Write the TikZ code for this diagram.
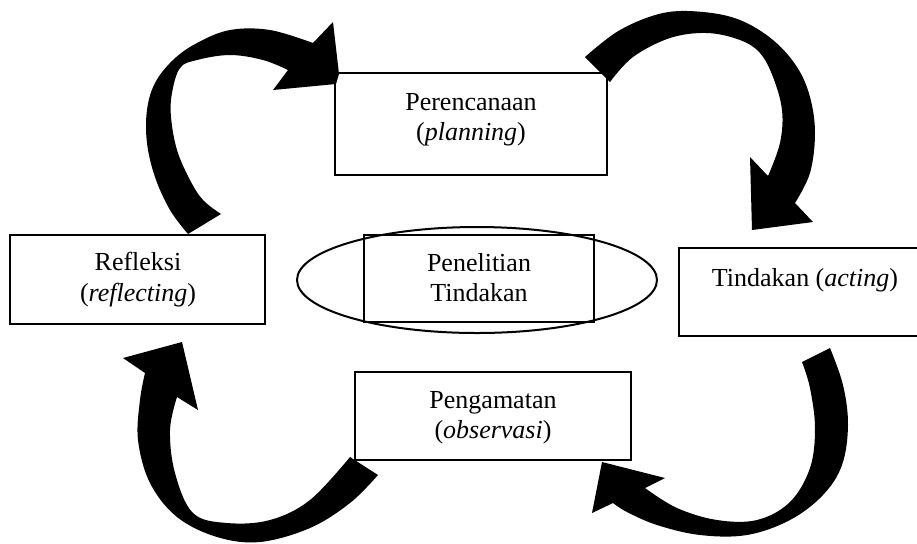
\documentclass[tikz,border=0pt]{standalone}
\usepackage{fontspec}
\setmainfont{Liberation Serif}
\usetikzlibrary{shapes.geometric}
\begin{document}
\begin{tikzpicture}[x=0.5pt,y=-0.5pt,
  box/.style={draw, line width=1pt, rectangle, inner sep=0pt},
  txt/.style={font=\fontsize{13}{15}\selectfont, anchor=base, inner sep=0pt},
  blk/.style={fill=black}]
\useasboundingbox (0,0) rectangle (917,543);
\clip (0,0) rectangle (917,543);

% boxes
\node[box, minimum width=136pt, minimum height=51pt] (plan) at (471,124) {};
\node[box, minimum width=127.5pt, minimum height=44.5pt] (refl) at (137.5,279.5) {};
\node[draw, ellipse, line width=1pt, minimum width=180pt, minimum height=53pt, inner sep=0pt] (ell) at (477,280) {};
\node[box, minimum width=115pt, minimum height=43.5pt] (pt) at (479,278.5) {};
\node[box, line width=1.4pt, minimum width=135pt, minimum height=44pt] (act) at (814,292) {};
\node[box, minimum width=138pt, minimum height=44pt] (obs) at (493,416) {};

% texts
\node[txt] (t1a) at (471,110) {Perencanaan};
\node[txt] (t1b) at (471,140) {(\textit{planning})};
\node[txt] (t2a) at (138,270) {Refleksi};
\node[txt] (t2b) at (138,301) {(\textit{reflecting})};
\node[txt] (t3a) at (479,271) {Penelitian};
\node[txt] (t3b) at (479,301) {Tindakan};
\node[txt] (t4) at (805,286) {Tindakan (\textit{acting})};
\node[txt] (t5a) at (493,408) {Pengamatan};
\node[txt] (t5b) at (493,438) {(\textit{observasi})};

% arrow 1: Refleksi -> Perencanaan
\fill[blk] plot[smooth, tension=0.6] coordinates {(188,234) (170,210) (155,177) (147,143) (147,110) (155,83) (173,60) (197,43) (230,30) (270,30) (313,43)}
  -- (333,22) -- (339,74) -- (336,84) -- (273,90)
  -- plot[smooth, tension=0.6] coordinates {(288,70) (263,60) (230,55) (197,60) (180,68) (172,93) (171,117) (177,150) (190,180) (203,200) (221,214)}
  -- cycle;

% arrow 2: Perencanaan -> Tindakan
\fill[blk] plot[smooth, tension=0.6] coordinates {(585,57) (620,30) (663,13) (703,12) (740,20) (773,40) (797,67) (810,97) (815,133) (810,173) (795,203)}
  -- (813,222) -- (752,230) -- (750,157)
  -- plot[smooth, tension=0.6] coordinates {(768,176) (780,143) (782,110) (773,77) (760,53) (740,40) (707,33) (670,38) (633,57) (610,82)}
  -- cycle;

% arrow 3: Tindakan -> Pengamatan
\fill[blk] plot[smooth, tension=0.6] coordinates {(830,348) (843,385) (848,425) (842,465) (823,495) (790,520) (747,535) (700,535) (657,525) (627,512) (613,503)}
  -- (592,513) -- (602,462) -- (665,478)
  -- plot[smooth, tension=0.6] coordinates {(645,488) (677,508) (717,520) (757,520) (790,502) (810,468) (815,428) (810,388) (802,362)}
  -- cycle;

% arrow 4: Pengamatan -> Refleksi
\fill[blk] plot[smooth, tension=0.6] coordinates {(378,475) (350,503) (310,528) (260,542) (217,537) (177,517) (150,483) (138,440) (140,400) (145,373)}
  -- (123,358) -- (182,342) -- (198,410)
  -- plot[smooth, tension=0.6] coordinates {(177,397) (170,430) (175,473) (193,513) (227,523) (270,520) (310,500) (350,457)}
  -- cycle;
\end{tikzpicture}
\end{document}
